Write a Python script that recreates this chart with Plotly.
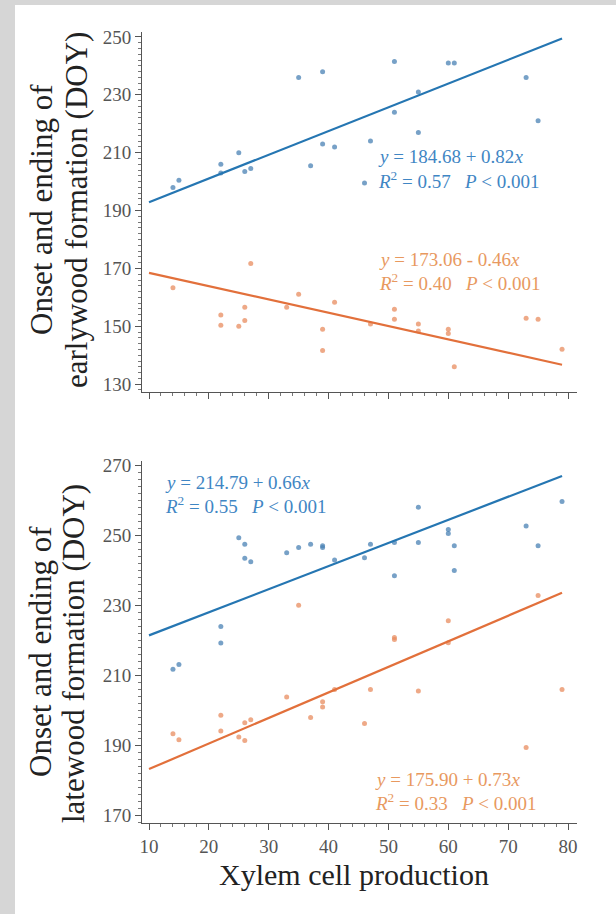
import plotly.graph_objects as go

# ---------------- data ----------------
# Top panel: earlywood
early_end_x = [14, 15, 22, 22, 25, 26, 27, 35, 37, 39, 39, 41, 46, 47, 51, 51, 55, 55, 60, 61, 73, 75]
early_end_y = [198, 200.5, 206, 203, 210, 203.5, 204.5, 236, 205.5, 238, 213, 212, 199.5, 214,
               241.5, 224, 231, 217, 241, 241, 236, 221]
early_on_x = [14, 22, 22, 25, 26, 26, 27, 33, 35, 39, 39, 41, 47, 51, 51, 55, 55, 60, 60, 61, 73, 75, 79]
early_on_y = [163.3, 153.9, 150.4, 150, 156.6, 152, 171.7, 156.6, 161.1, 149, 141.6, 158.3, 150.8,
              155.9, 152.4, 150.8, 148.4, 149, 147.5, 136, 152.8, 152.4, 142.1]

# Bottom panel: latewood
late_end_x = [14, 15, 22, 22, 25, 26, 26, 27, 33, 35, 37, 39, 39, 41, 46, 47, 51, 51, 55, 55,
              60, 60, 61, 61, 73, 75, 79]
late_end_y = [211.7, 213.1, 223.9, 219.2, 249.3, 247.4, 243.4, 242.4, 245, 246.5, 247.4, 246.5,
              247, 242.9, 243.6, 247.4, 247.9, 238.4, 258, 247.9, 251.6, 250.5, 247, 239.9,
              252.6, 247, 259.6]
late_on_x = [14, 15, 22, 22, 25, 26, 26, 27, 33, 35, 37, 39, 39, 41, 46, 47, 51, 51, 55, 60, 60, 73, 75, 79]
late_on_y = [193.3, 191.6, 198.6, 194.1, 192.4, 191.4, 196.4, 197.3, 203.8, 230, 197.9, 202.4,
             200.9, 205.9, 196.2, 205.9, 220.8, 220.2, 205.5, 225.6, 219.3, 189.4, 232.8, 205.9]

# regression coefficients: (intercept, slope)
fit_early_end = (184.68, 0.82)
fit_early_on = (173.06, -0.46)
fit_late_end = (214.79, 0.66)
fit_late_on = (175.90, 0.73)
fit_x = [10, 79]

eq_early_end = ["<i>y</i> = 184.68 + 0.82<i>x</i>", "<i>R</i><sup>2</sup> = 0.57   <i>P</i> < 0.001"]
eq_early_on = ["<i>y</i> = 173.06 - 0.46<i>x</i>", "<i>R</i><sup>2</sup> = 0.40   <i>P</i> < 0.001"]
eq_late_end = ["<i>y</i> = 214.79 + 0.66<i>x</i>", "<i>R</i><sup>2</sup> = 0.55   <i>P</i> < 0.001"]
eq_late_on = ["<i>y</i> = 175.90 + 0.73<i>x</i>", "<i>R</i><sup>2</sup> = 0.33   <i>P</i> < 0.001"]

ytitle_top = ["Onset and ending of", "earlywood formation (DOY)"]
ytitle_bot = ["Onset and ending of", "latewood formation (DOY)"]
xtitle = "Xylem cell production"

# ---------------- styling ----------------
W, H = 616, 914
L, R, T, B = 142, 39, 32, 91
SERIF = "Liberation Serif, Times New Roman, serif"
BLUE_PT = "rgba(74,130,180,0.75)"
ORANGE_PT = "rgba(232,140,95,0.75)"
BLUE_LN = "#2576b2"
ORANGE_LN = "#e2703b"
BLUE_TX = "#3f86c4"
ORANGE_TX = "#e8995f"

fig = go.Figure()


def add_pts(x, y, color, xa, ya):
    fig.add_trace(go.Scatter(x=x, y=y, mode="markers", xaxis=xa, yaxis=ya,
                             marker=dict(size=5, color=color), showlegend=False,
                             hoverinfo="skip"))


def add_fit(coef, color, xa, ya):
    a, b = coef
    ys = [a + b * v for v in fit_x]
    fig.add_trace(go.Scatter(x=fit_x, y=ys, mode="lines", xaxis=xa, yaxis=ya,
                             line=dict(color=color, width=2.2), showlegend=False,
                             hoverinfo="skip"))


add_pts(early_end_x, early_end_y, BLUE_PT, "x", "y")
add_pts(early_on_x, early_on_y, ORANGE_PT, "x", "y")
add_fit(fit_early_end, BLUE_LN, "x", "y")
add_fit(fit_early_on, ORANGE_LN, "x", "y")

add_pts(late_end_x, late_end_y, BLUE_PT, "x2", "y2")
add_pts(late_on_x, late_on_y, ORANGE_PT, "x2", "y2")
add_fit(fit_late_end, BLUE_LN, "x2", "y2")
add_fit(fit_late_on, ORANGE_LN, "x2", "y2")

plot_h = H - T - B


def dom(top_px, bot_px):
    return [(H - B - bot_px) / plot_h, (H - B - top_px) / plot_h]


axis_common = dict(
    showline=True, linecolor="#555", linewidth=1, mirror=False,
    ticks="outside", ticklen=6, tickwidth=1, tickcolor="#555",
    showgrid=False, zeroline=False,
    tickfont=dict(family=SERIF, size=19, color="#555"),
    minor=dict(ticks="outside", ticklen=3, tickwidth=1, tickcolor="#777", dtick=2, showgrid=False),
)

xr = [8.83, 81.5]
fig.update_layout(
    width=W, height=H,
    margin=dict(l=L, r=R, t=T, b=B),
    paper_bgcolor="#d6d6d6",
    plot_bgcolor="white",
    xaxis=dict(axis_common, range=xr, dtick=10, tick0=10, showticklabels=False,
               anchor="y", domain=[0, 1]),
    yaxis=dict(axis_common, range=[127.3, 251.7], dtick=20, tick0=130,
               anchor="x", domain=dom(32, 392)),
    xaxis2=dict(axis_common, range=xr, dtick=10, tick0=10, anchor="y2", domain=[0, 1]),
    yaxis2=dict(axis_common, range=[167.8, 271.2], dtick=20, tick0=170,
                anchor="x2", domain=dom(461, 823)),
)

# white panel behind everything
fig.add_shape(type="rect", xref="paper", yref="paper", layer="below",
              x0=(15 - L) / (W - L - R), x1=(W + 5 - L) / (W - L - R),
              y0=(H - B - 914) / plot_h, y1=(H - B - 5) / plot_h,
              fillcolor="white", line=dict(width=0))


def px_x(px):
    return (px - L) / (W - L - R)


def px_y(py):
    return (H - B - py) / plot_h


def add_text(txt, px, py, color, size=19, anchor="left", angle=0):
    fig.add_annotation(text=txt, xref="paper", yref="paper", x=px_x(px), y=px_y(py),
                       xanchor=anchor, yanchor="middle", showarrow=False, textangle=angle,
                       font=dict(family=SERIF, size=size, color=color))


add_text(eq_early_end[0], 376, 156, BLUE_TX)
add_text(eq_early_end[1], 376, 180, BLUE_TX)
add_text(eq_early_on[0], 377, 259, ORANGE_TX)
add_text(eq_early_on[1], 377, 282, ORANGE_TX)
add_text(eq_late_end[0], 163, 482, BLUE_TX)
add_text(eq_late_end[1], 163, 505, BLUE_TX)
add_text(eq_late_on[0], 373, 779, ORANGE_TX)
add_text(eq_late_on[1], 373, 802, ORANGE_TX)

add_text(ytitle_top[0], 41, 210, "#222", size=31, anchor="center", angle=-90)
add_text(ytitle_top[1], 76, 210, "#222", size=31, anchor="center", angle=-90)
add_text(ytitle_bot[0], 40, 652, "#222", size=31, anchor="center", angle=-90)
add_text(ytitle_bot[1], 73, 654, "#222", size=31, anchor="center", angle=-90)
add_text(xtitle, 354, 874, "#222", size=30, anchor="center")

fig.write_html(
    "out.html",
    config={"displayModeBar": False},
    post_script=("document.body.style.margin='0';"
                 "document.body.style.overflow='hidden';"
                 "document.body.style.background='#d6d6d6';"),
)
